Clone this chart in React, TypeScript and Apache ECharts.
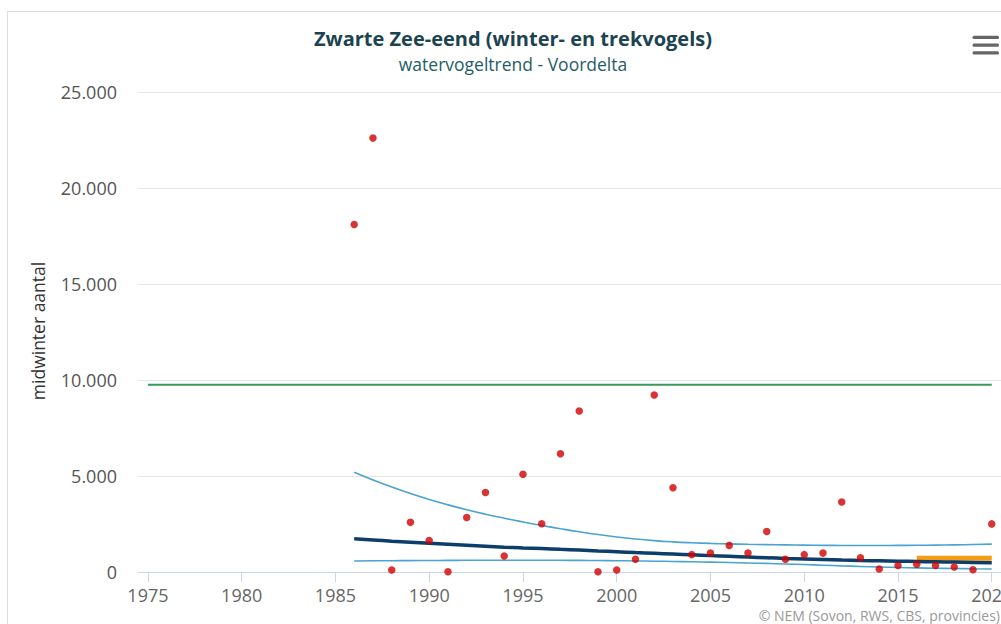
import React, { useEffect, useRef } from "react";
import * as echarts from "echarts";

const titleText = "Zwarte Zee-eend (winter- en trekvogels)";
const subtitleText = "watervogeltrend - Voordelta";
const yAxisName = "midwinter aantal";
const creditText = "© NEM (Sovon, RWS, CBS, provincies)";

const xTickValues = [1975, 1980, 1985, 1990, 1995, 2000, 2005, 2010, 2015, 2020];

const countYears = [
  1986, 1987, 1988, 1989, 1990, 1991, 1992, 1993, 1994, 1995, 1996, 1997, 1998,
  1999, 2000, 2001, 2002, 2003, 2004, 2005, 2006, 2007, 2008, 2009, 2010, 2011,
  2012, 2013, 2014, 2015, 2016, 2017, 2018, 2019, 2020,
];
const countValues = [
  18100, 22600, 120, 2600, 1650, 30, 2850, 4150, 850, 5100, 2530, 6170, 8400,
  30, 120, 680, 9230, 4400, 920, 1000, 1400, 1000, 2120, 680, 920, 1000,
  3660, 760, 170, 350, 420, 350, 280, 130, 2520,
];

const trendValues = [
  1740, 1680, 1620, 1565, 1510, 1460, 1410, 1360, 1310, 1270, 1235, 1195, 1155,
  1112, 1070, 1028, 988, 948, 908, 868, 830, 793, 758, 724, 692, 662,
  636, 614, 596, 578, 562, 546, 531, 516, 500,
];
const upperValues = [
  5210, 4810, 4440, 4100, 3790, 3510, 3255, 3025, 2815, 2620, 2440, 2270, 2110,
  1965, 1840, 1735, 1650, 1585, 1538, 1503, 1477, 1457, 1440, 1426, 1414, 1404,
  1397, 1394, 1395, 1399, 1406, 1416, 1429, 1446, 1465,
];
const lowerValues = [
  590, 598, 605, 610, 615, 620, 625, 628, 630, 630, 630, 625, 620,
  612, 603, 592, 579, 564, 548, 530, 510, 487, 462, 434, 403, 370,
  336, 303, 272, 248, 228, 211, 196, 182, 168,
];

const referenceYears = [1975, 2020];
const referenceValues = [9760, 9760];
const targetYears = [2016, 2020];
const targetValues = [730, 730];

function pairs(xs: number[], ys: number[]) {
  return xs.map((x, i) => [x, ys[i]]);
}

function fmtThousands(v: number) {
  return String(v).replace(/\B(?=(\d{3})+(?!\d))/g, ".");
}

export default function App() {
  const ref = useRef<HTMLDivElement>(null);

  useEffect(() => {
    if (!ref.current) return;
    const chart = echarts.init(ref.current, undefined, { renderer: "svg" });
    const font = "'Open Sans', 'DejaVu Sans', sans-serif";
    const narrow = "'Liberation Sans Narrow', 'Open Sans', sans-serif";
    chart.setOption({
      animation: false,
      backgroundColor: "#ffffff",
      grid: { left: 130, right: 7.5, top: 80, bottom: 51.7, containLabel: false },
      xAxis: {
        type: "value",
        min: 1974.47,
        max: 2021,
        axisLine: { show: true, lineStyle: { color: "#ccd6eb", width: 1 } },
        axisTick: {
          show: true,
          length: 10,
          customValues: xTickValues,
          lineStyle: { color: "#ccd6eb" },
        },
        axisLabel: {
          customValues: xTickValues,
          color: "#666666",
          fontSize: 18,
          fontFamily: narrow,
          margin: 14,
          formatter: (v: number) => String(v),
        },
        splitLine: { show: false },
      },
      yAxis: {
        type: "value",
        min: 0,
        max: 25000,
        interval: 5000,
        axisLine: { show: false },
        axisTick: { show: false },
        axisLabel: {
          color: "#555555",
          fontSize: 18,
          fontFamily: font,
          margin: 21,
          formatter: (v: number) => fmtThousands(v),
        },
        splitLine: { show: true, lineStyle: { color: "#e6e6e6", width: 1 } },
      },
      graphic: [
        {
          type: "text",
          x: 505,
          y: 26,
          style: {
            text: titleText,
            fill: "#1b4350",
            font: `bold 20px ${font}`,
            textAlign: "center",
            textVerticalAlign: "middle",
          },
        },
        {
          type: "text",
          x: 505,
          y: 52,
          style: {
            text: subtitleText,
            fill: "#265c66",
            font: `17.5px ${font}`,
            textAlign: "center",
            textVerticalAlign: "middle",
          },
        },
        {
          type: "text",
          x: 30,
          y: 319,
          rotation: Math.PI / 2,
          style: {
            text: yAxisName,
            fill: "#333333",
            font: `17.5px ${font}`,
            textAlign: "center",
            textVerticalAlign: "middle",
          },
        },
        {
          type: "text",
          x: 992,
          y: 603,
          style: {
            text: creditText,
            fill: "#999999",
            font: `14px ${narrow}`,
            textAlign: "right",
            textVerticalAlign: "middle",
          },
        },
        { type: "rect", shape: { x: 964.5, y: 23.8, width: 26.5, height: 3.2, r: 1.5 }, style: { fill: "#666666" } },
        { type: "rect", shape: { x: 964.5, y: 31.5, width: 26.5, height: 3.2, r: 1.5 }, style: { fill: "#666666" } },
        { type: "rect", shape: { x: 964.5, y: 39.2, width: 26.5, height: 3.2, r: 1.5 }, style: { fill: "#666666" } },
      ],
      series: [
        {
          name: "referentie",
          type: "line",
          data: pairs(referenceYears, referenceValues),
          symbol: "none",
          lineStyle: { color: "#3a9a5c", width: 2 },
          z: 2,
        },
        {
          name: "bovengrens",
          type: "line",
          data: pairs(countYears, upperValues),
          symbol: "none",
          smooth: 0.5,
          lineStyle: { color: "#4aa3d0", width: 1.6 },
          z: 2,
        },
        {
          name: "ondergrens",
          type: "line",
          data: pairs(countYears, lowerValues),
          symbol: "none",
          smooth: 0.5,
          lineStyle: { color: "#4aa3d0", width: 1.6 },
          z: 2,
        },
        {
          name: "doel",
          type: "line",
          data: pairs(targetYears, targetValues),
          symbol: "none",
          lineStyle: { color: "#f59c12", width: 5 },
          z: 3,
        },
        {
          name: "trend",
          type: "line",
          data: pairs(countYears, trendValues),
          symbol: "none",
          smooth: 0.5,
          lineStyle: { color: "#0c3d6b", width: 3.5 },
          z: 4,
        },
        {
          name: "telling",
          type: "scatter",
          data: pairs(countYears, countValues),
          symbol: "circle",
          symbolSize: 7.5,
          itemStyle: { color: "#d20000" },
          z: 5,
        },
      ],
    });
    return () => chart.dispose();
  }, []);

  return (
    <div
      style={{
        position: "fixed",
        left: 7,
        top: 11,
        width: 994,
        height: 613,
        overflow: "hidden",
        borderLeft: "1px solid #dddddd",
        borderTop: "1px solid #dddddd",
        background: "#ffffff",
      }}
    >
      <div ref={ref} style={{ width: 1010, height: 612 }} />
    </div>
  );
}
